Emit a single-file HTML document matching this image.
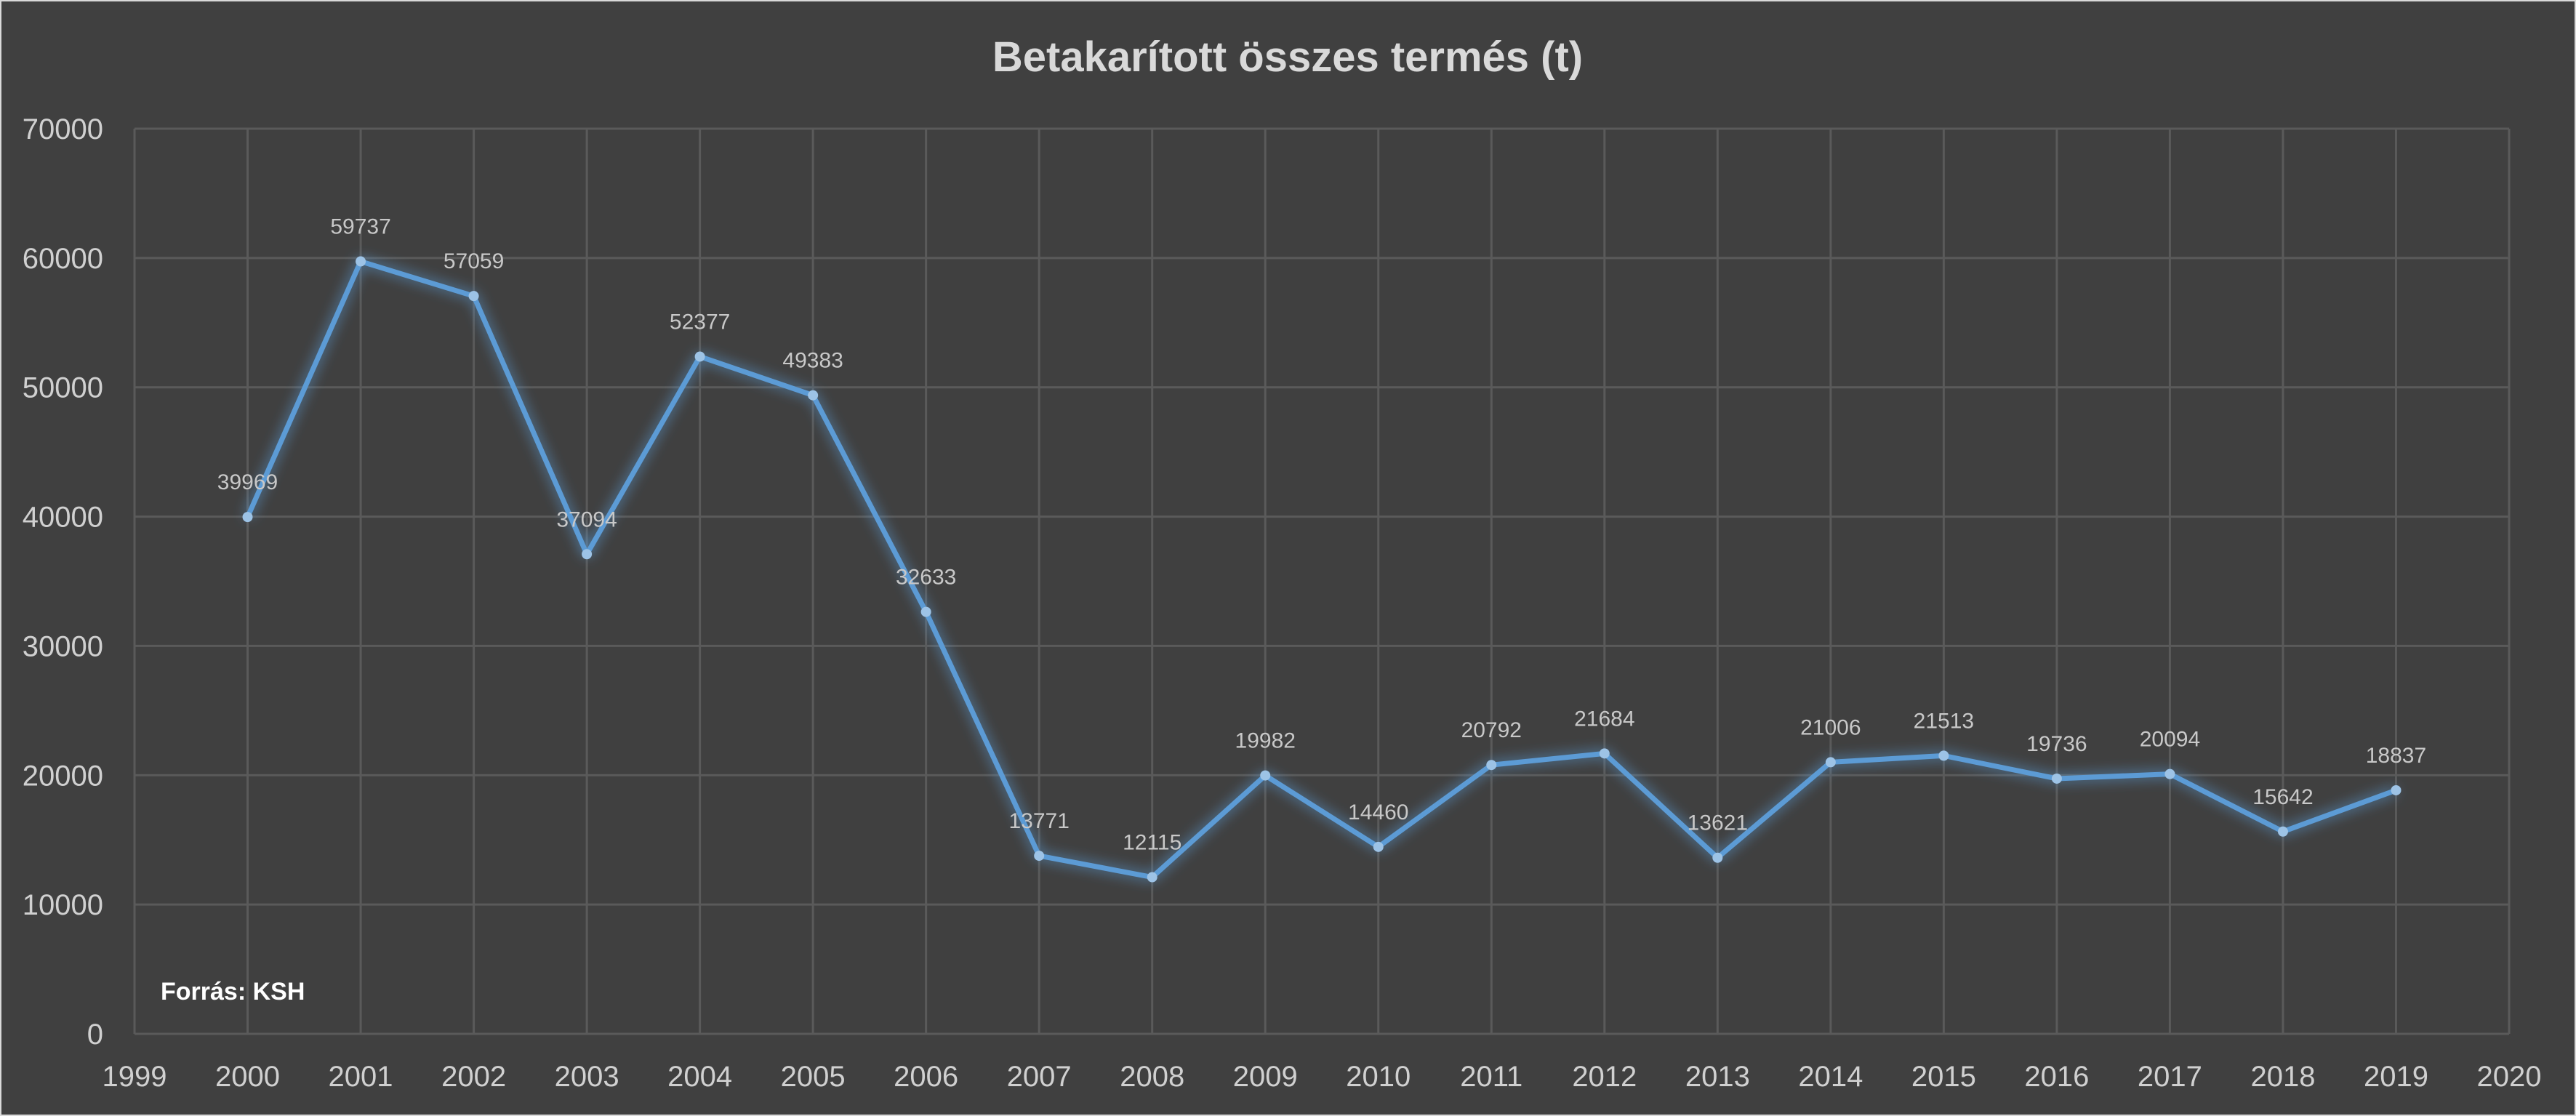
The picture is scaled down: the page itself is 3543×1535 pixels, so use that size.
<!DOCTYPE html>
<html><head><meta charset="utf-8"><style>
html,body{margin:0;padding:0;background:#404040;}
svg{display:block;font-family:"Liberation Sans",sans-serif;}
</style></head><body>
<svg id="chart" width="3543" height="1535" viewBox="0 0 3543 1535" xmlns="http://www.w3.org/2000/svg">
<defs>
<filter id="glow" x="-20%" y="-20%" width="140%" height="140%">
<feGaussianBlur stdDeviation="9" result="b"/>
<feMerge><feMergeNode in="b"/><feMergeNode in="SourceGraphic"/></feMerge>
</filter>
</defs>
<rect x="0" y="0" width="3543" height="1535" fill="#404040" stroke="#d9d9d9" stroke-width="4"/>
<text x="1771" y="98" text-anchor="middle" font-size="58" font-weight="bold" fill="#d9d9d9">Betakarított összes termés (t)</text>
<g id="grid"></g>
<g id="axes"></g>
<g id="series"></g>
<text x="221" y="1375" font-size="34" font-weight="bold" fill="#ffffff">Forrás: KSH</text>
</svg>
<script>
const years = [2000,2001,2002,2003,2004,2005,2006,2007,2008,2009,2010,2011,2012,2013,2014,2015,2016,2017,2018,2019];
const values = [39969,59737,57059,37094,52377,49383,32633,13771,12115,19982,14460,20792,21684,13621,21006,21513,19736,20094,15642,18837];
const yTicks = [0,10000,20000,30000,40000,50000,60000,70000];
const xTicks = [1999,2000,2001,2002,2003,2004,2005,2006,2007,2008,2009,2010,2011,2012,2013,2014,2015,2016,2017,2018,2019,2020];

const L=185,R=3451,T=177,B=1422;
const xs=v=>L+(v-1999)/(2020-1999)*(R-L);
const ys=v=>B-v/70000*(B-T);
const NS='http://www.w3.org/2000/svg';
function mk(tag,attrs,parent){const e=document.createElementNS(NS,tag);for(const k in attrs)e.setAttribute(k,attrs[k]);parent.appendChild(e);return e;}
const grid=document.getElementById('grid'),axes=document.getElementById('axes'),ser=document.getElementById('series');
yTicks.forEach(t=>{
  const l=mk('line',{x1:L,x2:R,y1:ys(t),y2:ys(t),stroke:'#5a5a5a','stroke-width':3},grid);
  
  
  const tx=mk('text',{x:142,y:ys(t)+14,'text-anchor':'end','font-size':40,fill:'#d0d0d0'},axes);
  tx.textContent=t;
  
  
});
xTicks.forEach(t=>{
  const l=mk('line',{x1:xs(t),x2:xs(t),y1:T,y2:B,stroke:'#5a5a5a','stroke-width':3},grid);
  
  
  const tx=mk('text',{x:xs(t),y:1494,'text-anchor':'middle','font-size':40,fill:'#d0d0d0'},axes);
  tx.textContent=t;
  
  
});
const pts=years.map((y,i)=>xs(y)+','+ys(values[i])).join(' ');
const pl=mk('polyline',{points:pts,fill:'none',stroke:'#5b9bd5','stroke-width':7,'stroke-linejoin':'round',filter:'url(#glow)'},ser);


years.forEach((y,i)=>{
  const c=mk('circle',{cx:xs(y),cy:ys(values[i]),r:7,fill:'#9dc3e6'},ser);
  
  
  const tx=mk('text',{x:xs(y),y:ys(values[i])-38,'text-anchor':'middle','font-size':30,fill:'#c8c8c8'},ser);
  tx.textContent=values[i];
  
  
});
</script>
</body></html>
